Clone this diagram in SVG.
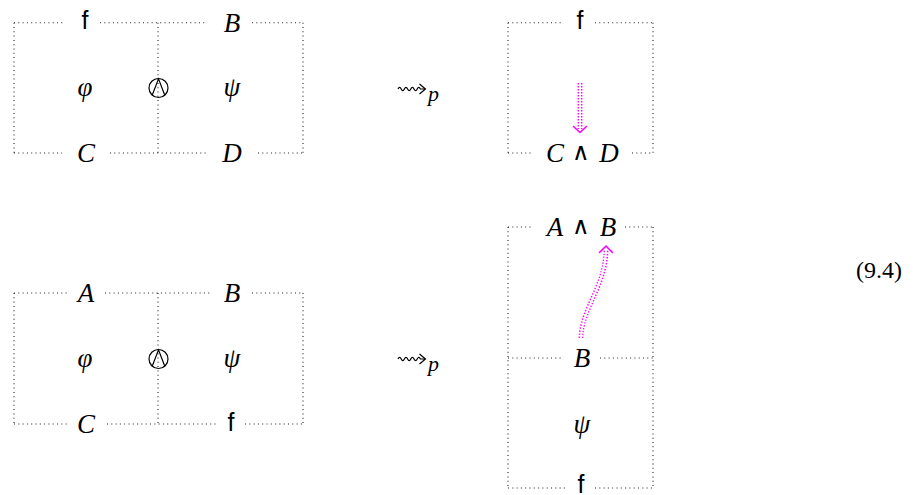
<svg xmlns="http://www.w3.org/2000/svg" width="913" height="495" viewBox="0 0 913 495">
<style>
.dl{stroke:#222;stroke-width:1.1;stroke-dasharray:1 3.3;fill:none}
.t{font-family:"Liberation Serif","DejaVu Serif",serif;font-style:italic;font-size:27px;fill:#000;text-anchor:middle}
.u{font-family:"DejaVu Sans ExtraLight","DejaVu Sans",sans-serif;font-weight:200;font-size:24px;fill:#000;text-anchor:middle}
.f{font-family:"Liberation Sans","DejaVu Sans",sans-serif;font-size:25px;fill:#000;text-anchor:middle}
.sym{stroke:#000;stroke-width:1.2;fill:none}
.mg{stroke:#ff00ff;stroke-width:4.8;stroke-dasharray:1.4 1.6;fill:none}
.mw{stroke:#fff;stroke-width:2;fill:none}
.mh{stroke:#ff00ff;stroke-width:1.6;fill:none;stroke-linecap:round;stroke-linejoin:round}
.sq{stroke:#000;stroke-width:1.2;fill:none}
.p{font-family:"Liberation Serif","DejaVu Serif",serif;font-style:italic;font-size:22px;fill:#000}
</style>

<g id="box-top-left">
  <path class="dl" d="M14,22.7H63 M100,22.7H207 M252,22.7H303 M14,153H62 M110,153H207 M258,153H303 M14,22.7V153 M303,22.7V153 M158,22.7V153"/>
  <text class="f" x="85" y="29">f</text>
  <text class="t" x="232" y="31.5">B</text>
  <text class="t" x="85" y="96">φ</text>
  <text class="t" x="232" y="96">ψ</text>
  <text class="t" x="86" y="162">C</text>
  <text class="t" x="232" y="162">D</text>
  <g id="wedge-top">
    <circle class="sym" cx="158.5" cy="88" r="9.5"/>
    <path class="sym" d="M152.2,95.2 L158.5,78.8 L164.8,95.2"/>
  </g>
</g>

<g id="box-bottom-left">
  <path class="dl" d="M14,293H68 M105,293H212 M252,293H303 M14,424H67 M107,424H217 M245,424H303 M14,293V424 M303,293V424 M158,293V424"/>
  <text class="t" x="86" y="302">A</text>
  <text class="t" x="232" y="302">B</text>
  <text class="t" x="85" y="367">φ</text>
  <text class="t" x="232" y="367">ψ</text>
  <text class="t" x="86" y="433">C</text>
  <text class="f" x="231" y="430.5">f</text>
  <g id="wedge-bottom">
    <circle class="sym" cx="158.5" cy="359" r="9.5"/>
    <path class="sym" d="M152.2,366.2 L158.5,349.8 L164.8,366.2"/>
  </g>
</g>

<g id="box-top-right">
  <path class="dl" d="M508,22.7H563 M595,22.7H653 M508,153H532 M632,153H653 M508,22.7V153 M653,22.7V153"/>
  <text class="f" x="580" y="29">f</text>
  <text class="t" x="555" y="162">C</text>
  <text class="u" x="580.5" y="160">∧</text>
  <text class="t" x="609" y="162">D</text>
</g>

<g id="box-bottom-right">
  <path class="dl" d="M508,227H532 M625,227H653 M508,358H562 M600,358H653 M508,488H565 M595,488H653 M508,227V488 M653,227V488"/>
  <text class="t" x="555" y="236">A</text>
  <text class="u" x="581" y="234">∧</text>
  <text class="t" x="608" y="236">B</text>
  <text class="t" x="582" y="367">B</text>
  <text class="t" x="582" y="433">ψ</text>
  <text class="f" x="581" y="493">f</text>
</g>

<g id="rewrite-top">
  <path class="sq" d="M398,89 q1.6,-3.4 3.2,0 t3.2,0 t3.2,0 t3.2,0 t3.2,0 t3.2,0 t3.2,0 H425 M419.5,84 L425.5,89 L419.5,94"/>
  <text class="p" x="428" y="101">p</text>
</g>
<g id="rewrite-bottom">
  <path class="sq" d="M398,359 q1.6,-3.4 3.2,0 t3.2,0 t3.2,0 t3.2,0 t3.2,0 t3.2,0 t3.2,0 H425 M419.5,354 L425.5,359 L419.5,364"/>
  <text class="p" x="428" y="371">p</text>
</g>

<g id="connectors">
  <path class="mg" d="M580,83 V129"/>
  <path class="mw" d="M580,82 V130"/>
  <path class="mh" d="M573.5,126.5 L580,132.5 L586.5,126.5"/>
  <path class="mg" d="M581,338 C581,310 606,285 606,250"/>
  <path class="mw" d="M581,339 C581,310 606,285 606,249"/>
  <path class="mh" d="M599.5,252.5 L606,246 L612.5,252.5"/>
</g>

<text id="eq-number" x="902" y="278" style="font-family:'Liberation Serif','DejaVu Serif',serif;font-size:24px;text-anchor:end">(9.4)</text>
</svg>
